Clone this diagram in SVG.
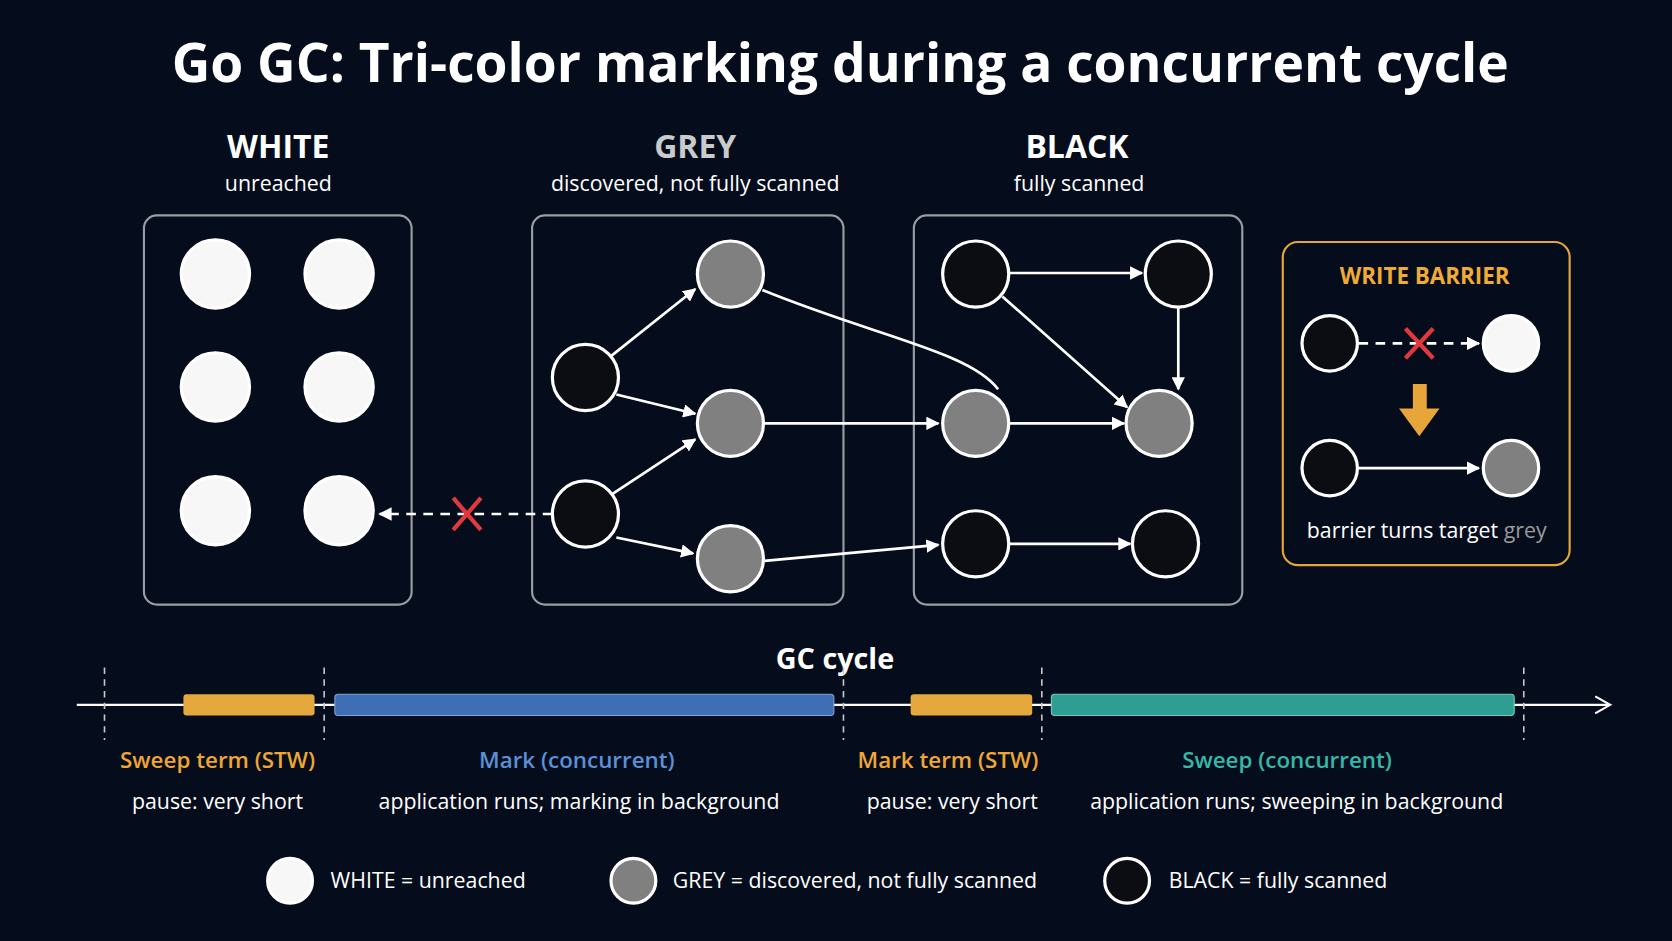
<svg xmlns="http://www.w3.org/2000/svg" width="1672" height="941" viewBox="0 0 1672 941">
<defs>
<marker id="ah" viewBox="0 0 10 10" refX="9" refY="5" markerWidth="5" markerHeight="5" orient="auto"><path d="M0,0L10,5L0,10z" fill="#fff"/></marker>
<style>
text{font-family:"Open Sans","Liberation Sans",sans-serif;fill:#fff;text-anchor:middle}
.h{font-size:30px;font-weight:700}
.s{font-size:20px}
.box{fill:none;stroke:#9a9da3;stroke-width:2}
.w{fill:#f7f7f7;stroke:#fff;stroke-width:3}
.g{fill:#808080;stroke:#fff;stroke-width:3}
.b{fill:#0c0d12;stroke:#fff;stroke-width:3}
.e{stroke:#fff;stroke-width:2.5;fill:none;marker-end:url(#ah)}
.d{stroke:#fff;stroke-width:2.5;fill:none;stroke-dasharray:9 7}
.x{stroke:#e0383e;stroke-width:4}
.lab{font-size:21px;font-weight:600}
</style>
</defs>
<rect width="1672" height="941" fill="#050d1d"/>
<g transform="scale(1.06633)">
<text x="788" y="77" style="font-size:50px;font-weight:700">Go GC: Tri-color marking during a concurrent cycle</text>
<g id="white">
<text class="h" x="261" y="148">WHITE</text><text class="s" x="261" y="179">unreached</text>
<rect class="box" x="135" y="202" width="251" height="365" rx="12"/>
<circle class="w" cx="202" cy="257" r="32"/><circle class="w" cx="318" cy="257" r="32"/>
<circle class="w" cx="202" cy="363" r="32"/><circle class="w" cx="318" cy="363" r="32"/>
<circle class="w" cx="202" cy="479" r="32"/><circle class="w" cx="318" cy="479" r="32"/>
</g>
<g id="grey">
<text class="h" x="652" y="148" style="fill:#c9cacc">GREY</text><text class="s" x="652" y="179">discovered, not fully scanned</text>
<rect class="box" x="499" y="202" width="292" height="365" rx="12"/>
</g>
<g id="black">
<text class="h" x="1010" y="148">BLACK</text><text class="s" x="1012" y="179">fully scanned</text>
<rect class="box" x="857" y="202" width="308" height="365" rx="12"/>
</g>
<g id="connectors">
<path class="e" d="M573,334L652,271"/>
<path class="e" d="M578,370L652,388"/>
<path class="e" d="M573,464L652,412"/>
<path class="e" d="M578,504L650,519"/>
<path class="e" d="M717,397L880,397"/>
<path class="e" d="M717,526L880,511"/>
<path d="M715,272C820,315 910,330 936,365" stroke="#fff" stroke-width="2.5" fill="none"/>
<path class="e" d="M947,256L1071,256"/>
<path class="e" d="M1105,289L1105,365"/>
<path class="e" d="M940,278L1057,382"/>
<path class="e" d="M947,397L1054,397"/>
<path class="e" d="M947,510L1060,510"/>
<path class="d" d="M518,482L356,482" marker-end="url(#ah)"/>
<path class="x" d="M425,467L451,497M451,467L425,497"/>
</g>
<g id="nodes">
<circle class="g" cx="685" cy="257" r="31"/><circle class="g" cx="685" cy="397" r="31"/><circle class="g" cx="685" cy="524" r="31"/>
<circle class="b" cx="549" cy="354" r="31"/><circle class="b" cx="549" cy="482" r="31"/>
<circle class="b" cx="915" cy="257" r="31"/><circle class="b" cx="1105" cy="257" r="31"/>
<circle class="g" cx="915" cy="397" r="31"/><circle class="g" cx="1087" cy="397" r="31"/>
<circle class="b" cx="915" cy="510" r="31"/><circle class="b" cx="1093" cy="510" r="31"/>
</g>
<g id="barrier">
<rect x="1203" y="227" width="269" height="303" rx="14" fill="none" stroke="#e8a63a" stroke-width="2"/>
<text x="1336" y="266" style="font-size:21px;font-weight:700;fill:#f0aa36">WRITE BARRIER</text>
<path class="d" d="M1274,322L1387,322" marker-end="url(#ah)"/>
<path class="x" d="M1318,308L1344,336M1344,308L1318,336"/>
<circle class="b" cx="1247" cy="322" r="26"/><circle class="w" cx="1417" cy="322" r="26"/>
<path d="M1325,360h13v23h12l-19,26l-19,-26h13z" fill="#e8a63a"/>
<path class="e" d="M1274,439L1387,439"/>
<circle class="b" cx="1247" cy="439" r="26"/><circle class="g" cx="1417" cy="439" r="26"/>
<text class="s" x="1338" y="505">barrier turns target <tspan style="fill:#9a9a9a">grey</tspan></text>
</g>
<g id="timeline">
<text x="783" y="627" style="font-size:27px;font-weight:700">GC cycle</text>
<path d="M72,661H1508" stroke="#fff" stroke-width="2"/>
<path d="M1496,653L1510,661L1496,669" stroke="#fff" stroke-width="2" fill="none"/>
<g stroke="#c8c8c8" stroke-width="1.5" stroke-dasharray="6 5">
<path d="M98,626V694M304,626V694M791,626V694M977,626V694M1429,626V694"/></g>
<rect x="172" y="651" width="123" height="20" rx="3" fill="#e5a83d"/>
<rect x="314" y="651" width="468" height="20" rx="3" fill="#3e6fb5" stroke="#7ea2d8"/>
<rect x="854" y="651" width="114" height="20" rx="3" fill="#e5a83d"/>
<rect x="986" y="651" width="434" height="20" rx="3" fill="#2e9e92" stroke="#6fd0c4"/>
<text class="lab" x="204" y="720" style="fill:#efa634">Sweep term (STW)</text>
<text class="lab" x="541" y="720" style="fill:#5b8fd6">Mark (concurrent)</text>
<text class="lab" x="889" y="720" style="fill:#efa634">Mark term (STW)</text>
<text class="lab" x="1207" y="720" style="fill:#35b8a8">Sweep (concurrent)</text>
<text class="s" x="204" y="759">pause: very short</text>
<text class="s" x="543" y="759">application runs; marking in background</text>
<text class="s" x="893" y="759">pause: very short</text>
<text class="s" x="1216" y="759">application runs; sweeping in background</text>
</g>
<g id="legend" style="text-anchor:start">
<circle class="w" cx="272" cy="826" r="21"/><text class="s" x="310" y="833" style="text-anchor:start">WHITE = unreached</text>
<circle class="g" cx="594" cy="826" r="21"/><text class="s" x="631" y="833" style="text-anchor:start">GREY = discovered, not fully scanned</text>
<circle class="b" cx="1057" cy="826" r="21"/><text class="s" x="1096" y="833" style="text-anchor:start">BLACK = fully scanned</text>
</g>
</g>
</svg>
